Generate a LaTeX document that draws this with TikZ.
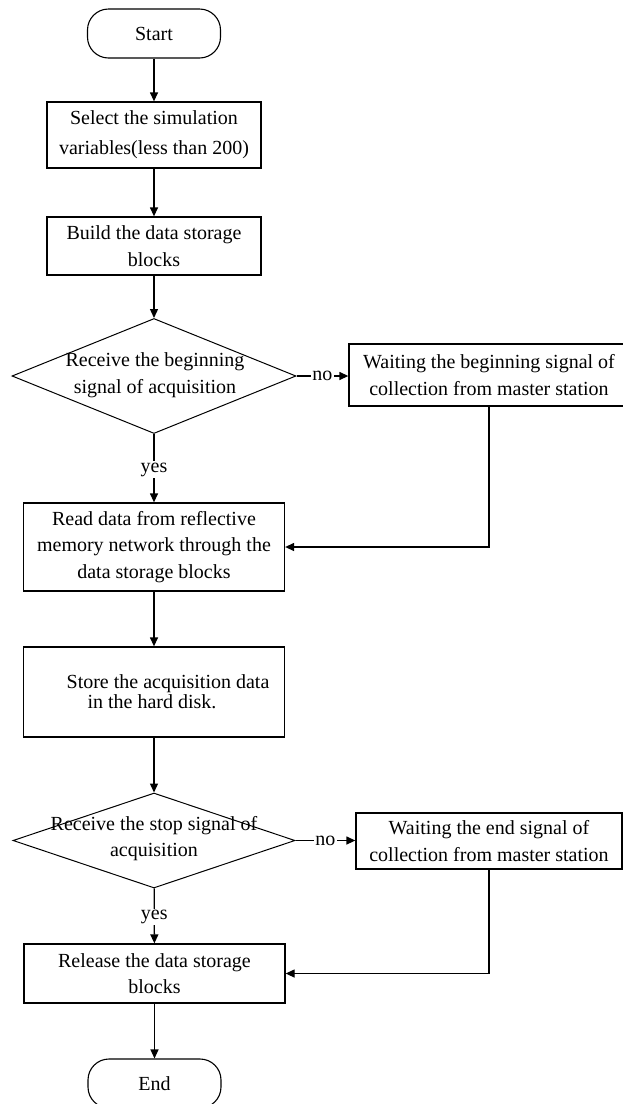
\documentclass[tikz,border=0pt]{standalone}
\usepackage{fontspec}
\setmainfont{Liberation Serif}
\usetikzlibrary{shapes.geometric,arrows.meta}
\begin{document}
\begin{tikzpicture}[x=1pt,y=-1pt,
  every node/.style={font=\fontsize{20}{26.5}\selectfont},
  proc/.style={draw,line width=1.3pt,rectangle,inner sep=0pt,align=center},
  term/.style={draw,line width=1.1pt,rectangle,rounded corners=21pt,inner sep=0pt},
  decis/.style={draw,line width=1pt,diamond,inner sep=0pt},
  lbl/.style={align=center,inner sep=0pt},
  arr/.style={line width=1.3pt,-{Triangle[length=9pt,width=8pt]}},
  tag/.style={fill=white,inner sep=1.5pt}
]
\useasboundingbox (0,0) rectangle (622,1104);
\node[term,minimum width=133pt,minimum height=49pt] (start) at (154,33.5) {Start};
\node[proc,minimum width=214pt,minimum height=66pt,font=\fontsize{20}{30}\selectfont] (sel) at (154,135) {Select the simulation\\variables(less than 200)};
\node[proc,minimum width=214pt,minimum height=58pt] (build) at (154,246) {Build the data storage\\blocks};
\node[decis,minimum width=284pt,minimum height=115pt] (d1) at (154,376) {};
\node[lbl] (d1t) at (155,375) {Receive the beginning\\signal of acquisition};
\node[proc,minimum width=280pt,minimum height=62pt] (w1) at (489,375) {Waiting the beginning signal of\\collection from master station};
\node[proc,minimum width=261pt,minimum height=88pt] (read) at (154,547) {Read data from reflective\\memory network through the\\data storage blocks};
\node[proc,minimum width=261pt,minimum height=90pt,font=\fontsize{20}{20}\selectfont] (store) at (154,692) {\hspace*{28pt}Store the acquisition data\\in the hard disk.\hspace*{4pt}};
\node[decis,minimum width=282pt,minimum height=95pt] (d2) at (154,840.5) {};
\node[lbl] (d2t) at (154,838.5) {Receive the stop signal of\\acquisition};
\node[proc,minimum width=266pt,minimum height=56pt] (w2) at (489,841) {Waiting the end signal of\\collection from master station};
\node[proc,minimum width=261pt,minimum height=59pt] (rel) at (154.5,973.5) {Release the data storage\\blocks};
\node[term,minimum width=133pt,minimum height=49pt] (endn) at (154.5,1083.5) {End};
\draw[arr] (start) -- (sel);
\draw[arr] (sel) -- (build);
\draw[arr] (build) -- (d1);
\draw[arr] (d1.east) -- node[tag]{no} (d1.east -| w1.west);
\draw[arr] (d1) -- node[tag,pos=0.52]{yes} (read);
\draw[arr] (w1.south) |- (read.east);
\draw[arr] (read) -- (store);
\draw[arr] (store) -- (d2);
\draw[arr] (d2.east) -- node[tag]{no} (d2.east -| w2.west);
\draw[arr] (d2) -- node[tag,pos=0.52]{yes} (rel);
\draw[arr] (w2.south) |- (rel.east);
\draw[arr] (rel) -- (endn);
\end{tikzpicture}
\end{document}
